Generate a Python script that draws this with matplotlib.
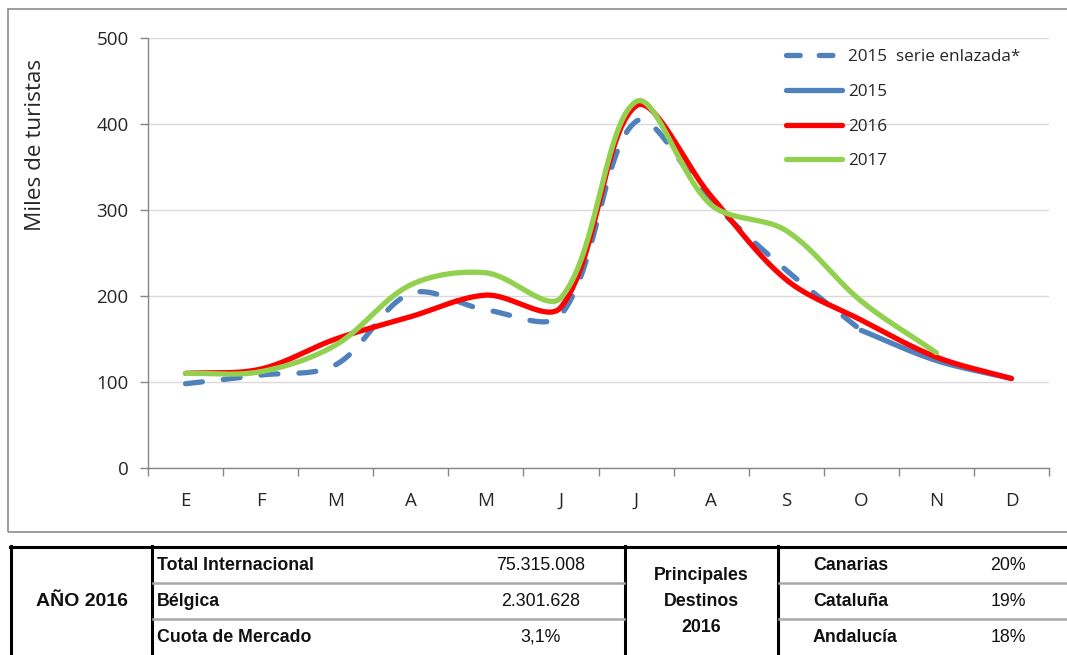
import numpy as np
import matplotlib
matplotlib.use("Agg")
import matplotlib.pyplot as plt
from matplotlib import font_manager as fm
from matplotlib.lines import Line2D
from matplotlib.patches import Rectangle

# ---------------- data ----------------
months = ["E", "F", "M", "A", "M", "J", "J", "A", "S", "O", "N", "D"]
serie_enlazada_2015 = [98, 108, 120, 203, 184, 178, 403, 310, 230, 160]          # E..O
serie_2015 = [160, 125, 104]                                                     # O..D
serie_2016 = [110, 115, 150, 176, 201, 187, 421, 316, 219, 172, 129, 104]
serie_2017 = [110, 112, 143, 213, 227, 198, 426, 306, 276, 194, 134]              # E..N
yticks = [0, 100, 200, 300, 400, 500]
ylabel = "Miles de turistas"
legend_labels = ["2015  serie enlazada*", "2015", "2016", "2017"]

table_year = "AÑO 2016"
table_rows = ["Total Internacional", "Bélgica", "Cuota de Mercado"]
table_vals = ["75.315.008", "2.301.628", "3,1%"]
table_mid = ["Principales", "Destinos", "2016"]
dest_names = ["Canarias", "Cataluña", "Andalucía"]
dest_vals = ["20%", "19%", "18%"]

# ---------------- helpers ----------------
XS, YS = 75.0, 0.86   # pixel aspect used for Excel-like chord-length smoothing

def smooth(xs, ys, n=50):
    """Excel-like smoothed line: Bezier segments with chord-length scaled tangents."""
    P = np.column_stack([np.asarray(xs, float) * XS, np.asarray(ys, float) * YS])
    m = len(P)
    out = []
    for i in range(m - 1):
        p0 = P[i - 1] if i > 0 else P[i]
        p1 = P[i]; p2 = P[i + 1]
        p3 = P[i + 2] if i + 2 < m else P[i + 1]
        d01 = np.linalg.norm(p1 - p0); d12 = np.linalg.norm(p2 - p1); d23 = np.linalg.norm(p3 - p2)
        t1 = (p2 - p0) / (d01 + d12) if d01 + d12 > 0 else np.zeros(2)
        t2 = (p3 - p1) / (d12 + d23) if d12 + d23 > 0 else np.zeros(2)
        c1 = p1 + t1 * d12 / 3.0
        c2 = p2 - t2 * d12 / 3.0
        t = np.linspace(0, 1, n)[:, None]
        seg = ((1 - t) ** 3) * p1 + 3 * ((1 - t) ** 2) * t * c1 + 3 * (1 - t) * t ** 2 * c2 + t ** 3 * p2
        out.append(seg if i == 0 else seg[1:])
    S = np.vstack(out)
    return S[:, 0] / XS, S[:, 1] / YS

available = {f.name for f in fm.fontManager.ttflist}
chart_font = "Open Sans" if "Open Sans" in available else "DejaVu Sans"
if "Liberation Sans Narrow" in available:
    tab_font, tab_size = "Liberation Sans Narrow", 14
else:
    tab_font, tab_size = "Liberation Sans", 12.8

W, H = 1067, 655
fig = plt.figure(figsize=(W / 100, H / 100), dpi=100)

def fx(px):
    return px / W

def fy(py):
    return 1 - py / H

# chart frame
fig.add_artist(Rectangle((fx(8), fy(532)), fx(1075) - fx(8), fy(9) - fy(532),
                         transform=fig.transFigure, fill=False, ec="#8c8c8c", lw=1.2))

ax = fig.add_axes([fx(148), fy(468), fx(1049) - fx(148), fy(38) - fy(468)])
x_all = np.arange(len(months))

BLUE, RED, GREEN = "#4F81BD", "#FF0000", "#92D050"
LW = 3.8

xs, ys = smooth(x_all[:len(serie_enlazada_2015)], serie_enlazada_2015)
ax.plot(xs, ys, color=BLUE, lw=LW, dashes=(3.2, 4.0), dash_capstyle="round", zorder=3)
xs, ys = smooth(x_all[len(serie_enlazada_2015) - 1:], serie_2015)
ax.plot(xs, ys, color=BLUE, lw=LW, solid_capstyle="round", zorder=3)
xs, ys = smooth(x_all, serie_2016)
ax.plot(xs, ys, color=RED, lw=LW, solid_capstyle="round", zorder=4)
xs, ys = smooth(x_all[:len(serie_2017)], serie_2017)
ax.plot(xs, ys, color=GREEN, lw=LW, solid_capstyle="round", zorder=5)

ax.set_xlim(-0.5, len(months) - 0.5)
ax.set_ylim(0, 500)
ax.set_yticks(yticks)
ax.set_yticklabels([str(v) for v in yticks], fontsize=13.5, family=chart_font, color="#262626")
ax.yaxis.grid(True, color="#d9d9d9", lw=1.0)
ax.set_axisbelow(True)
ax.set_xticks(np.arange(-0.5, len(months), 1.0))
ax.set_xticklabels([])
ax.set_xticks(x_all, minor=True)
ax.set_xticklabels(months, minor=True, fontsize=13.5, family=chart_font, color="#262626")
ax.tick_params(axis="x", which="major", length=6, color="#868686", width=1)
ax.tick_params(axis="x", which="minor", length=0, pad=17)
ax.tick_params(axis="y", length=6, color="#868686", width=1, pad=8)
for s in ["top", "right"]:
    ax.spines[s].set_visible(False)
for s in ["left", "bottom"]:
    ax.spines[s].set_color("#868686")
    ax.spines[s].set_linewidth(1.0)

fig.text(fx(36), fy(145), ylabel, rotation=90, ha="center", va="center",
         fontsize=16.2, family=chart_font, color="#262626")

handles = [
    Line2D([], [], color=BLUE, lw=LW, dashes=(2.6, 3.6), dash_capstyle="round"),
    Line2D([], [], color=BLUE, lw=LW, solid_capstyle="round"),
    Line2D([], [], color=RED, lw=LW, solid_capstyle="round"),
    Line2D([], [], color=GREEN, lw=LW, solid_capstyle="round"),
]
leg = ax.legend(handles, legend_labels, loc="upper left", frameon=False,
                prop={"family": chart_font, "size": 12.3}, handlelength=3.3, handletextpad=0.35,
                labelspacing=1.1, borderaxespad=0, borderpad=0)
leg.set_bbox_to_anchor((fx(786), fy(49)), transform=fig.transFigure)
for t in leg.get_texts():
    t.set_color("#262626")

# ---------------- table ----------------
def hline(y, x0, x1, color="black", lw=2.2):
    fig.add_artist(Line2D([fx(x0), fx(x1)], [fy(y), fy(y)], transform=fig.transFigure, color=color, lw=lw))

def vline(x, y0, y1, color="black", lw=2.2):
    fig.add_artist(Line2D([fx(x), fx(x)], [fy(y0), fy(y1)], transform=fig.transFigure, color=color, lw=lw))

hline(547, 10, 1075)
for xv in [11, 152, 625, 778]:
    vline(xv, 546, 660)
for yv in [583, 619]:
    hline(yv, 153, 624, color="#a8a8a8", lw=1.8)
    hline(yv, 779, 1075, color="#a8a8a8", lw=1.8)

row_y = [565, 601, 637]
fig.text(fx(82), fy(601), table_year, ha="center", va="center", family=tab_font,
         fontsize=tab_size + 1.2, weight="bold", color="#111111")
for yv, lab, val in zip(row_y, table_rows, table_vals):
    fig.text(fx(157), fy(yv), lab, ha="left", va="center", family=tab_font,
             fontsize=tab_size, weight="bold", color="#111111")
    fig.text(fx(541), fy(yv), val, ha="center", va="center", family=tab_font,
             fontsize=tab_size, color="#111111")
for yv, lab in zip([575, 601, 628], table_mid):
    fig.text(fx(701), fy(yv), lab, ha="center", va="center", family=tab_font,
             fontsize=tab_size, weight="bold", color="#111111")
for yv, lab, val in zip(row_y, dest_names, dest_vals):
    fig.text(fx(813), fy(yv), lab, ha="left", va="center", family=tab_font,
             fontsize=tab_size, weight="bold", color="#111111")
    fig.text(fx(1008), fy(yv), val, ha="center", va="center", family=tab_font,
             fontsize=tab_size, color="#111111")

fig.savefig("out.png", dpi=100)
